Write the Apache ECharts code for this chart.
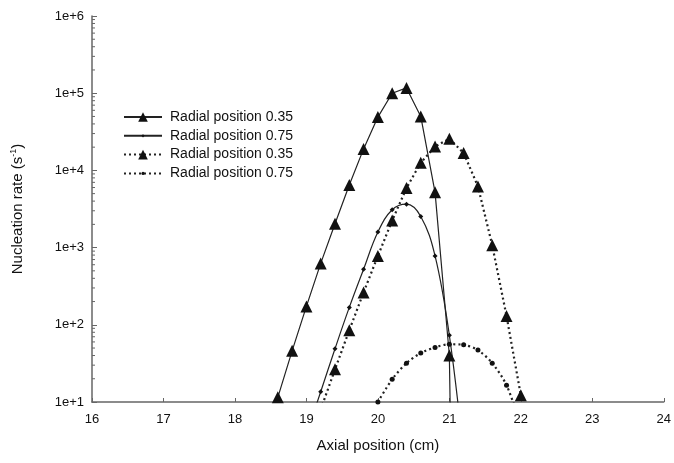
<!DOCTYPE html>
<html>
<head>
<meta charset="utf-8">
<style>
	html, body { margin: 0; padding: 0; background: #fff; }
	#chart { width: 674px; height: 463px; }
</style>
<script src="https://cdn.jsdelivr.net/npm/echarts@6/dist/echarts.min.js"></script>
</head>
<body>
<div id="chart"></div>
<script>
// axial position (cm) vs nucleation rate (1/s)
const solid35X = [18.6, 18.8, 19.0, 19.2, 19.4, 19.6, 19.8, 20.0, 20.2, 20.4, 20.6, 20.8, 21.0, 21.2];
const solid35Y = [11.5, 46, 173, 624, 2040, 6460, 19000, 49000, 100000, 117000, 50000, 5200, 40, 1e-10];

const solid75X = [19.0, 19.2, 19.4, 19.6, 19.8, 20.0, 20.2, 20.4, 20.6, 20.8, 21.0, 21.2];
const solid75Y = [3.8, 13.6, 49, 168, 525, 1590, 3090, 3650, 2530, 780, 73, 2];

const dot35X = [19.2, 19.4, 19.6, 19.8, 20.0, 20.2, 20.4, 20.6, 20.8, 21.0, 21.2, 21.4, 21.6, 21.8, 22.0];
const dot35Y = [8, 26.5, 85, 263, 780, 2240, 5900, 12600, 20400, 25700, 16800, 6200, 1070, 130, 12.2];

const dot75X = [20.0, 20.2, 20.4, 20.6, 20.8, 21.0, 21.2, 21.4, 21.6, 21.8, 22.0];
const dot75Y = [10, 19.7, 31.8, 43, 51, 56, 55, 47, 31.8, 16.5, 5];

const seriesNames = ['Radial position 0.35', 'Radial position 0.75', 'Radial position 0.35 ', 'Radial position 0.75 '];

// minor ticks on the log axis: 2..9 in every decade
const minorDecades = [10, 100, 1000, 10000, 100000];
const minorSteps = [2, 3, 4, 5, 6, 7, 8, 9];

const pairs = (xs, ys) => xs.map((x, i) => [x, ys[i]]);

let minorTicks = [];
minorDecades.forEach(d => minorSteps.forEach(k => minorTicks.push([16, k * d])));

let chart = echarts.init(document.getElementById('chart'));

const lineBase = {
	type: 'line',
	clip: true,
	showAllSymbol: true,
	color: '#111',
	z: 3
};

// one legend per row so the marker size can differ (legend marker = 80% of itemHeight)
const legendRow = (name, i, markH) => ({
	data: [name],
	orient: 'vertical',
	left: 123,
	top: 118 + i * 18.8 - 8,
	itemWidth: 38,
	itemHeight: markH,
	itemGap: 0,
	padding: 0,
	textStyle: { fontSize: 14, color: '#111', padding: [0, 0, 0, 3] },
	formatter: n => n.trim()
});

chart.setOption({
	animation: false,
	textStyle: { fontFamily: 'Liberation Sans, Arial, sans-serif' },
	grid: { left: 92, right: 9, top: 16, bottom: 61 },
	legend: [
		legendRow(seriesNames[0], 0, 12),
		legendRow(seriesNames[1], 1, 4),
		legendRow(seriesNames[2], 2, 12),
		legendRow(seriesNames[3], 3, 4)
	],
	xAxis: {
		type: 'value',
		min: 16,
		max: 24,
		interval: 1,
		name: 'Axial position (cm)',
		nameLocation: 'middle',
		nameGap: 36,
		nameTextStyle: { fontSize: 15, color: '#111' },
		axisLine: { lineStyle: { color: '#666', width: 1.5 } },
		axisTick: { inside: true, length: 4, lineStyle: { color: '#666' } },
		axisLabel: { fontSize: 13, color: '#111', margin: 11 },
		splitLine: { show: false }
	},
	yAxis: {
		type: 'log',
		logBase: 10,
		min: 10,
		max: 1e6,
		name: 'Nucleation rate (s{sup|-1})',
		nameLocation: 'middle',
		nameRotate: 90,
		nameGap: 66,
		nameTextStyle: {
			fontSize: 15,
			color: '#111',
			rich: { sup: { fontSize: 9, verticalAlign: 'top', padding: [0, 0, 8, 0], color: '#111' } }
		},
		axisLine: { show: true, lineStyle: { color: '#666', width: 1.5 } },
		axisTick: { inside: true, length: 5, lineStyle: { color: '#666' } },
		axisLabel: {
			fontSize: 13,
			color: '#111',
			margin: 8,
			formatter: v => '1e+' + Math.round(Math.log10(v))
		},
		splitLine: { show: false }
	},
	series: [
		Object.assign({}, lineBase, {
			name: seriesNames[0],
			data: pairs(solid35X, solid35Y),
			symbol: 'triangle',
			symbolSize: 12,
			lineStyle: { color: '#222', width: 1.2 }
		}),
		Object.assign({}, lineBase, {
			name: seriesNames[1],
			data: pairs(solid75X, solid75Y),
			smooth: 0.4,
			symbol: 'diamond',
			symbolSize: 5,
			lineStyle: { color: '#222', width: 1.2 }
		}),
		Object.assign({}, lineBase, {
			name: seriesNames[2],
			data: pairs(dot35X, dot35Y),
			symbol: 'triangle',
			symbolSize: 12,
			lineStyle: { color: '#222', width: 2.2, type: [2, 3] }
		}),
		Object.assign({}, lineBase, {
			name: seriesNames[3],
			data: pairs(dot75X, dot75Y),
			smooth: 0.3,
			symbol: 'circle',
			symbolSize: 5,
			lineStyle: { color: '#222', width: 2.2, type: [2, 3] }
		}),
		{
			type: 'custom',
			silent: true,
			data: minorTicks,
			renderItem: (params, api) => {
				let p = api.coord([api.value(0), api.value(1)]);
				return {
					type: 'line',
					shape: { x1: p[0], y1: p[1], x2: p[0] + 3, y2: p[1] },
					style: { stroke: '#666', lineWidth: 1 }
				};
			}
		}
	]
});
</script>
</body>
</html>
